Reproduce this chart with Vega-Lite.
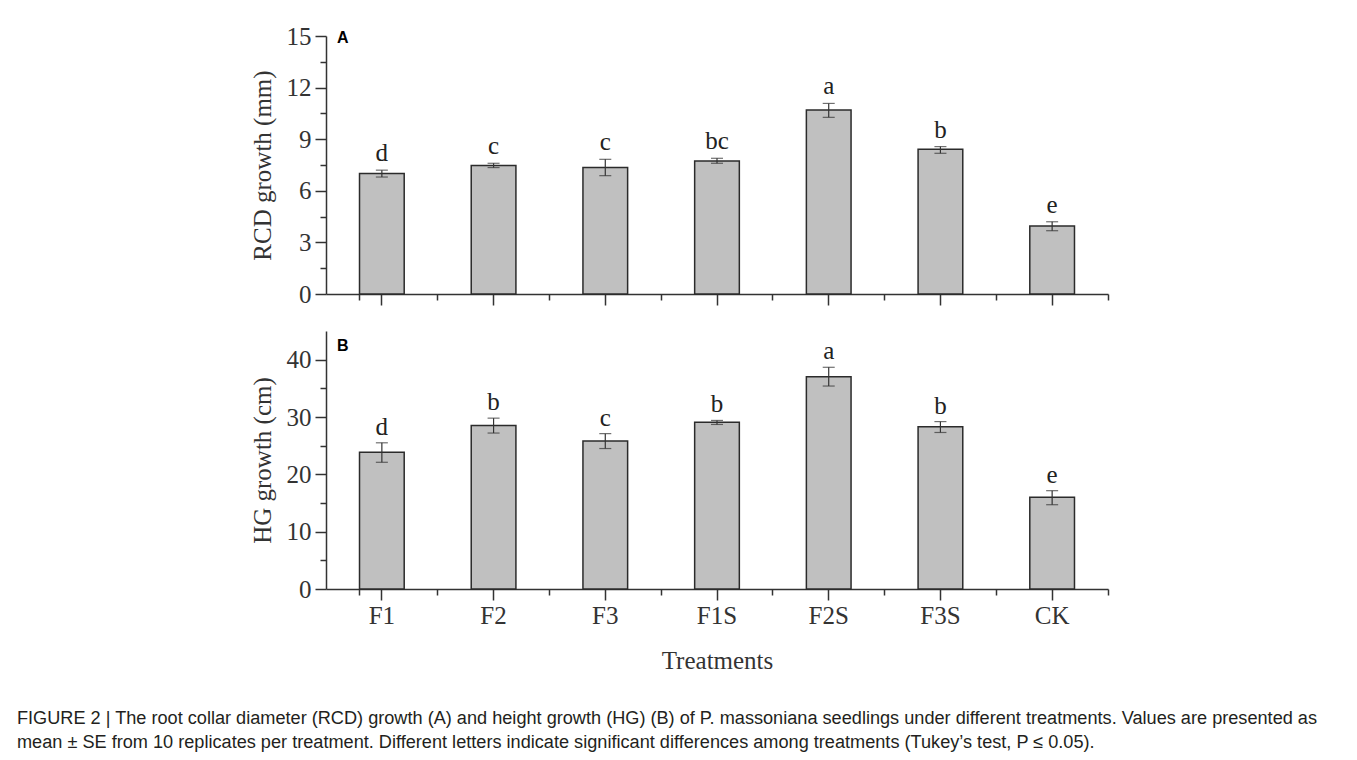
{
  "$schema": "https://vega.github.io/schema/vega-lite/v6.json",
  "padding": {"left": 17, "top": 24, "right": 5, "bottom": 5},
  "background": "white",
  "datasets": {
    "rcd": [
      {"t": "F1", "mean": 7.0, "lo": 6.8, "hi": 7.2, "sig": "d"},
      {"t": "F2", "mean": 7.47, "lo": 7.35, "hi": 7.6, "sig": "c"},
      {"t": "F3", "mean": 7.36, "lo": 6.88, "hi": 7.83, "sig": "c"},
      {"t": "F1S", "mean": 7.73, "lo": 7.6, "hi": 7.89, "sig": "bc"},
      {"t": "F2S", "mean": 10.7, "lo": 10.27, "hi": 11.08, "sig": "a"},
      {"t": "F3S", "mean": 8.41, "lo": 8.18, "hi": 8.57, "sig": "b"},
      {"t": "CK", "mean": 3.95, "lo": 3.68, "hi": 4.2, "sig": "e"}
    ],
    "hg": [
      {"t": "F1", "mean": 23.84, "lo": 22.1, "hi": 25.5, "sig": "d"},
      {"t": "F2", "mean": 28.5, "lo": 27.2, "hi": 29.8, "sig": "b"},
      {"t": "F3", "mean": 25.8, "lo": 24.5, "hi": 27.1, "sig": "c"},
      {"t": "F1S", "mean": 29.07, "lo": 28.7, "hi": 29.4, "sig": "b"},
      {"t": "F2S", "mean": 37.03, "lo": 35.4, "hi": 38.67, "sig": "a"},
      {"t": "F3S", "mean": 28.3, "lo": 27.3, "hi": 29.2, "sig": "b"},
      {"t": "CK", "mean": 16.0, "lo": 14.7, "hi": 17.15, "sig": "e"}
    ]
  },
  "config": {
    "font": "Liberation Serif",
    "view": {"stroke": null},
    "concat": {"spacing": 24},
    "axis": {
      "grid": false,
      "domainColor": "#333333",
      "domainWidth": 1.5,
      "tickColor": "#333333",
      "tickWidth": 1.5,
      "labelFont": "Liberation Serif",
      "labelFontSize": 25,
      "labelColor": "#333333",
      "titleFont": "Liberation Serif",
      "titleFontSize": 25,
      "titleFontWeight": "normal",
      "titleColor": "#333333"
    }
  },
  "title": {
    "text": [
      "FIGURE 2 | The root collar diameter (RCD) growth (A) and height growth (HG) (B) of P. massoniana seedlings under different treatments. Values are presented as",
      "mean ± SE from 10 replicates per treatment. Different letters indicate significant differences among treatments (Tukey’s test, P ≤ 0.05)."
    ],
    "orient": "bottom",
    "anchor": "start",
    "frame": "bounds",
    "font": "Liberation Sans",
    "fontSize": 18.15,
    "fontWeight": "normal",
    "color": "#231f20",
    "lineHeight": 24,
    "offset": 37,
    "dx": -233
  },
  "vconcat": [
    {
      "width": 782,
      "height": 258,
      "data": {"name": "rcd"},
      "title": {"text": "A", "anchor": "start", "frame": "group", "orient": "top", "font": "Liberation Sans", "fontSize": 16, "fontWeight": "bold", "color": "#000000", "baseline": "top", "offset": -22, "dx": 11},
      "layer": [
        {
          "mark": {"type": "bar", "fill": "#c0c0c0", "stroke": "#2b2b2b", "strokeWidth": 1.5},
          "encoding": {
            "x": {"field": "t", "type": "nominal", "sort": null, "scale": {"paddingInner": 0.6, "paddingOuter": 0.3},
                  "axis": {"orient": "bottom", "labels": false, "title": null, "tickSize": 11}},
            "y": {"field": "mean", "type": "quantitative", "scale": {"domain": [0, 15], "nice": false, "zero": true},
                  "axis": {"orient": "left", "values": [0, 3, 6, 9, 12, 15], "tickSize": 11, "labelPadding": 4, "title": "RCD growth (mm)", "titlePadding": 11}}
          }
        },
        {
          "mark": {"type": "rule", "color": "#333333", "strokeWidth": 1.2},
          "encoding": {
            "x": {"field": "t", "type": "nominal", "sort": null,
                  "axis": {"orient": "bottom", "labels": false, "title": null, "tickSize": 6, "bandPosition": 1.75, "tickExtra": true, "domain": false}},
            "y": {"field": "lo", "type": "quantitative",
                  "axis": {"orient": "left", "values": [1.5, 4.5, 7.5, 10.5, 13.5], "tickSize": 6, "labels": false, "title": null, "domain": false}},
            "y2": {"field": "hi"}
          }
        },
        {
          "mark": {"type": "tick", "color": "#333333", "thickness": 1.2, "size": 12},
          "encoding": {
            "x": {"field": "t", "type": "nominal", "sort": null, "axis": null},
            "y": {"field": "hi", "type": "quantitative", "axis": null}
          }
        },
        {
          "mark": {"type": "tick", "color": "#333333", "thickness": 1.2, "size": 12},
          "encoding": {
            "x": {"field": "t", "type": "nominal", "sort": null, "axis": null},
            "y": {"field": "lo", "type": "quantitative", "axis": null}
          }
        },
        {
          "mark": {"type": "text", "font": "Liberation Serif", "fontSize": 25, "baseline": "alphabetic", "dy": -9, "color": "#222222"},
          "encoding": {
            "x": {"field": "t", "type": "nominal", "sort": null, "axis": null},
            "y": {"field": "hi", "type": "quantitative", "axis": null},
            "text": {"field": "sig"}
          }
        }
      ],
      "resolve": {"axis": {"x": "independent", "y": "independent"}}
    },
    {
      "width": 782,
      "height": 258,
      "data": {"name": "hg"},
      "title": {"text": "B", "anchor": "start", "frame": "group", "orient": "top", "font": "Liberation Sans", "fontSize": 16, "fontWeight": "bold", "color": "#000000", "baseline": "top", "offset": -23, "dx": 11},
      "layer": [
        {
          "mark": {"type": "bar", "fill": "#c0c0c0", "stroke": "#2b2b2b", "strokeWidth": 1.5},
          "encoding": {
            "x": {"field": "t", "type": "nominal", "sort": null, "scale": {"paddingInner": 0.6, "paddingOuter": 0.3},
                  "axis": {"orient": "bottom", "labelAngle": 0, "labelPadding": 3, "tickSize": 11, "title": "Treatments", "titlePadding": 20}},
            "y": {"field": "mean", "type": "quantitative", "scale": {"domain": [0, 45], "nice": false, "zero": true},
                  "axis": {"orient": "left", "values": [0, 10, 20, 30, 40], "tickSize": 11, "labelPadding": 4, "title": "HG growth (cm)", "titlePadding": 11}}
          }
        },
        {
          "mark": {"type": "rule", "color": "#333333", "strokeWidth": 1.2},
          "encoding": {
            "x": {"field": "t", "type": "nominal", "sort": null,
                  "axis": {"orient": "bottom", "labels": false, "title": null, "tickSize": 6, "bandPosition": 1.75, "tickExtra": true, "domain": false}},
            "y": {"field": "lo", "type": "quantitative",
                  "axis": {"orient": "left", "values": [5, 15, 25, 35], "tickSize": 6, "labels": false, "title": null, "domain": false}},
            "y2": {"field": "hi"}
          }
        },
        {
          "mark": {"type": "tick", "color": "#333333", "thickness": 1.2, "size": 12},
          "encoding": {
            "x": {"field": "t", "type": "nominal", "sort": null, "axis": null},
            "y": {"field": "hi", "type": "quantitative", "axis": null}
          }
        },
        {
          "mark": {"type": "tick", "color": "#333333", "thickness": 1.2, "size": 12},
          "encoding": {
            "x": {"field": "t", "type": "nominal", "sort": null, "axis": null},
            "y": {"field": "lo", "type": "quantitative", "axis": null}
          }
        },
        {
          "mark": {"type": "text", "font": "Liberation Serif", "fontSize": 25, "baseline": "alphabetic", "dy": -8, "color": "#222222"},
          "encoding": {
            "x": {"field": "t", "type": "nominal", "sort": null, "axis": null},
            "y": {"field": "hi", "type": "quantitative", "axis": null},
            "text": {"field": "sig"}
          }
        }
      ],
      "resolve": {"axis": {"x": "independent", "y": "independent"}}
    }
  ]
}
